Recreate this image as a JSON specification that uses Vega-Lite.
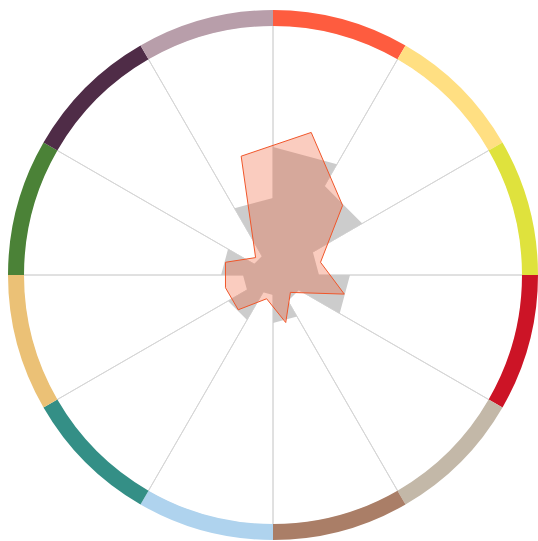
{
  "$schema": "https://vega.github.io/schema/vega-lite/v6.json",
  "width": 530,
  "height": 530,
  "autosize": {"type": "none"},
  "padding": {"left": 8, "top": 10, "right": 0, "bottom": 1},
  "config": {"view": {"stroke": null}},
  "datasets": {
    "sectors": [
      {"idx": 1, "segment": "S1", "share": 1},
      {"idx": 2, "segment": "S2", "share": 1},
      {"idx": 3, "segment": "S3", "share": 1},
      {"idx": 4, "segment": "S4", "share": 1},
      {"idx": 5, "segment": "S5", "share": 1},
      {"idx": 6, "segment": "S6", "share": 1},
      {"idx": 7, "segment": "S7", "share": 1},
      {"idx": 8, "segment": "S8", "share": 1},
      {"idx": 9, "segment": "S9", "share": 1},
      {"idx": 10, "segment": "S10", "share": 1},
      {"idx": 11, "segment": "S11", "share": 1},
      {"idx": 12, "segment": "S12", "share": 1}
    ],
    "average": [
      {"idx": 0, "angle": 0, "value": 5.2},
      {"idx": 1, "angle": 30, "value": 5.2},
      {"idx": 2, "angle": 30, "value": 4.19},
      {"idx": 3, "angle": 60, "value": 4.19},
      {"idx": 4, "angle": 60, "value": 1.87},
      {"idx": 5, "angle": 90, "value": 1.87},
      {"idx": 6, "angle": 90, "value": 3.13},
      {"idx": 7, "angle": 120, "value": 3.13},
      {"idx": 8, "angle": 120, "value": 1.22},
      {"idx": 9, "angle": 150, "value": 1.22},
      {"idx": 10, "angle": 150, "value": 1.95},
      {"idx": 11, "angle": 180, "value": 1.95},
      {"idx": 12, "angle": 180, "value": 0.81},
      {"idx": 13, "angle": 210, "value": 0.81},
      {"idx": 14, "angle": 210, "value": 2.11},
      {"idx": 15, "angle": 240, "value": 2.11},
      {"idx": 16, "angle": 240, "value": 1.22},
      {"idx": 17, "angle": 270, "value": 1.22},
      {"idx": 18, "angle": 270, "value": 2.11},
      {"idx": 19, "angle": 300, "value": 2.11},
      {"idx": 20, "angle": 300, "value": 0.89},
      {"idx": 21, "angle": 330, "value": 0.89},
      {"idx": 22, "angle": 330, "value": 3.13},
      {"idx": 23, "angle": 360, "value": 3.13}
    ],
    "selected": [
      {"idx": 0, "angle": 15, "value": 6},
      {"idx": 1, "angle": 45, "value": 4},
      {"idx": 2, "angle": 75, "value": 2},
      {"idx": 3, "angle": 105, "value": 3},
      {"idx": 4, "angle": 135, "value": 1},
      {"idx": 5, "angle": 165, "value": 2},
      {"idx": 6, "angle": 195, "value": 1},
      {"idx": 7, "angle": 225, "value": 2},
      {"idx": 8, "angle": 255, "value": 2},
      {"idx": 9, "angle": 285, "value": 2},
      {"idx": 10, "angle": 315, "value": 1},
      {"idx": 11, "angle": 345, "value": 5}
    ]
  },
  "layer": [
    {
      "data": {"name": "sectors"},
      "mark": {"type": "arc", "radius": 250, "radius2": 0, "filled": false, "stroke": "#d6d6d6", "strokeWidth": 1},
      "encoding": {
        "theta": {"field": "share", "type": "quantitative", "stack": true},
        "order": {"field": "idx", "type": "quantitative"}
      }
    },
    {
      "data": {"name": "average"},
      "transform": [
        {"calculate": "datum.value * sin(datum.angle * PI / 180)", "as": "px"},
        {"calculate": "datum.value * cos(datum.angle * PI / 180)", "as": "py"}
      ],
      "mark": {"type": "line", "interpolate": "linear-closed", "fill": "#cccccc", "stroke": null, "strokeWidth": 0},
      "encoding": {
        "x": {"field": "px", "type": "quantitative", "scale": {"domain": [-10.772, 10.772], "nice": false, "zero": false}, "axis": null},
        "y": {"field": "py", "type": "quantitative", "scale": {"domain": [-10.772, 10.772], "nice": false, "zero": false}, "axis": null},
        "order": {"field": "idx", "type": "quantitative"}
      }
    },
    {
      "data": {"name": "selected"},
      "transform": [
        {"calculate": "datum.value * sin(datum.angle * PI / 180)", "as": "px"},
        {"calculate": "datum.value * cos(datum.angle * PI / 180)", "as": "py"}
      ],
      "mark": {"type": "line", "interpolate": "linear-closed", "fill": "#F0562A", "fillOpacity": 0.3, "stroke": "#F0562A", "strokeWidth": 1},
      "encoding": {
        "x": {"field": "px", "type": "quantitative", "scale": {"domain": [-10.772, 10.772], "nice": false, "zero": false}, "axis": null},
        "y": {"field": "py", "type": "quantitative", "scale": {"domain": [-10.772, 10.772], "nice": false, "zero": false}, "axis": null},
        "order": {"field": "idx", "type": "quantitative"}
      }
    },
    {
      "data": {"name": "sectors"},
      "mark": {"type": "arc", "radius": 265, "radius2": 249},
      "encoding": {
        "theta": {"field": "share", "type": "quantitative", "stack": true},
        "order": {"field": "idx", "type": "quantitative"},
        "color": {
          "field": "segment", "type": "nominal", "legend": null,
          "scale": {
            "domain": ["S1","S2","S3","S4","S5","S6","S7","S8","S9","S10","S11","S12"],
            "range": ["#FE5C3F","#FFDF82","#DFE23D","#CC1426","#C3B8A8","#AA7E67","#AFD3EE","#348F86","#EBC176","#4B8237","#4F2C47","#B89EAA"]
          }
        }
      }
    }
  ]
}
